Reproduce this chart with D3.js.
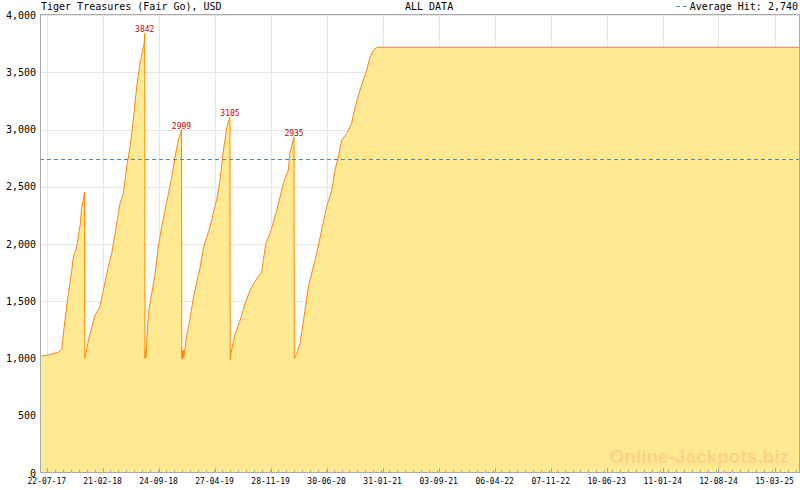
<!DOCTYPE html>
<html>
<head>
<meta charset="utf-8">
<script src="https://cdn.jsdelivr.net/npm/d3@7/dist/d3.min.js"></script>
<style>
  html, body { margin: 0; padding: 0; background: #ffffff; }
  svg { display: block; }
</style>
</head>
<body>
<svg id="chart" width="800" height="490"></svg>
<script>
// ---- data ----
const title = "Tiger Treasures (Fair Go), USD";
const subtitle = "ALL DATA";
const averageHit = 2740;
const averageLabel = "Average Hit: 2,740";

const dates = [
  "2017-06-26","2017-07-28","2017-09-04","2017-09-18","2017-09-24","2017-09-30","2017-10-13","2017-10-26",
  "2017-11-01","2017-11-14","2017-11-28","2017-12-03","2017-12-09","2017-12-14","2017-12-15",
  "2017-12-29","2018-01-11","2018-01-23","2018-02-11","2018-02-24","2018-03-15","2018-03-28","2018-04-10",
  "2018-04-19","2018-04-29","2018-05-12","2018-05-25","2018-06-07","2018-06-19","2018-07-02","2018-07-15",
  "2018-07-25","2018-07-31","2018-08-02","2018-08-03","2018-08-05","2018-08-07",
  "2018-08-10","2018-08-16","2018-08-29","2018-09-11","2018-09-23","2018-10-06","2018-10-19","2018-11-01",
  "2018-11-14","2018-11-26","2018-12-09","2018-12-19","2018-12-21","2018-12-22","2018-12-24","2018-12-26",
  "2018-12-28","2018-12-30",
  "2019-01-10","2019-01-23","2019-02-04","2019-02-17","2019-03-02","2019-03-15","2019-03-28","2019-04-10",
  "2019-04-22","2019-05-05","2019-05-18","2019-05-31","2019-06-13","2019-06-23","2019-06-25","2019-06-26",
  "2019-06-28","2019-07-15","2019-08-03","2019-08-22","2019-09-10","2019-10-06","2019-10-25","2019-10-31",
  "2019-11-10","2019-11-26","2019-12-22","2020-01-16","2020-02-04","2020-02-10","2020-02-23","2020-02-26",
  "2020-02-27",
  "2020-03-07","2020-03-20","2020-04-08","2020-04-21","2020-05-10","2020-05-23","2020-06-11","2020-06-30",
  "2020-07-20","2020-08-01","2020-08-14","2020-08-27","2020-09-15","2020-09-28","2020-10-04","2020-10-10",
  "2020-10-23","2020-11-05","2020-11-18","2020-12-01","2020-12-14","2020-12-27","2021-01-10","2025-06-17"
];
const values = [
  1020,1030,1055,1085,1220,1335,1565,1770,
  1885,1975,2180,2320,2385,2450,1000,
  1160,1275,1380,1450,1595,1800,1915,2090,
  2210,2355,2440,2675,2850,3080,3375,3580,
  3695,3755,3842,1000,1080,1010,
  1160,1395,1570,1745,1975,2150,2295,2440,
  2585,2760,2905,2980,2999,1000,1075,1000,
  1075,1010,
  1200,1350,1520,1660,1790,1960,2060,2150,
  2270,2385,2560,2820,3020,3095,3105,990,
  1043,1217,1334,1480,1596,1698,1756,1858,
  2004,2092,2295,2529,2645,2791,2907,2935,
  1000,
  1043,1130,1421,1625,1800,1917,2121,2324,
  2470,2645,2761,2907,2966,3024,3053,3125,
  3240,3344,3432,3519,3636,3694,3718,3718
];
const peakValues = [3842, 2999, 3105, 2935];

const xTickLabels = ["22-07-17","21-02-18","24-09-18","27-04-19","28-11-19","30-06-20","31-01-21",
  "03-09-21","06-04-22","07-11-22","10-06-23","11-01-24","12-08-24","15-03-25"];
const yTicks = [0, 500, 1000, 1500, 2000, 2500, 3000, 3500, 4000];

// ---- layout ----
const L = 40, R = 799, T = 15, B = 473;
const svg = d3.select("#chart");
const parseISO = d3.timeParse("%Y-%m-%d");
const parseTick = d3.timeParse("%d-%m-%y");
const data = dates.map((d, i) => ({ date: parseISO(d), value: values[i] }));
const majorTicks = xTickLabels.map(parseTick);

const x = d3.scaleTime().domain(d3.extent(data, d => d.date)).range([L, R]);
const y = d3.scaleLinear().domain([0, 4000]).range([B, T]);

const mono = "'DejaVu Sans Mono', monospace";

// grid
const g = svg.append("g");
g.selectAll("line.hg").data(yTicks.slice(1)).join("line")
  .attr("x1", L).attr("x2", R)
  .attr("y1", d => Math.round(y(d)) + 0.5).attr("y2", d => Math.round(y(d)) + 0.5)
  .attr("stroke", "#e6e6e6").attr("stroke-width", 1);
g.selectAll("line.vg").data(majorTicks).join("line")
  .attr("x1", d => Math.round(x(d)) + 0.5).attr("x2", d => Math.round(x(d)) + 0.5)
  .attr("y1", T).attr("y2", B)
  .attr("stroke", "#e6e6e6").attr("stroke-width", 1);

// area + line
const area = d3.area().x(d => x(d.date)).y0(y(0)).y1(d => y(d.value));
const line = d3.line().x(d => x(d.date)).y(d => y(d.value));
svg.append("path").datum(data).attr("d", area).attr("fill", "#ffea93");
svg.append("path").datum(data).attr("d", line)
  .attr("fill", "none").attr("stroke", "#ff8800").attr("stroke-width", 1);

// average dashed line
svg.append("line")
  .attr("x1", L).attr("x2", R)
  .attr("y1", Math.round(y(averageHit)) + 0.5).attr("y2", Math.round(y(averageHit)) + 0.5)
  .attr("stroke", "#3d8fc4").attr("stroke-width", 1).attr("stroke-dasharray", "4,3");

// watermark
svg.append("text")
  .attr("x", 789).attr("y", 463)
  .attr("text-anchor", "end")
  .attr("font-family", "'Liberation Sans', Arial, sans-serif")
  .attr("font-weight", "bold").attr("font-size", 19)
  .attr("fill", "#ffd27d")
  .text("Online-Jackpots.biz");

// frame
svg.append("rect")
  .attr("x", L + 0.5).attr("y", T - 0.5)
  .attr("width", R - L).attr("height", B - T)
  .attr("fill", "none").attr("stroke", "#aaaaaa").attr("stroke-width", 1);

// x ticks: major + minor
const step = (majorTicks[1] - majorTicks[0]) / 7;
const minorTicks = [];
const t0 = +majorTicks[0], tEnd = +x.domain()[1], tStart = +x.domain()[0];
for (let t = t0; t >= tStart; t -= step) minorTicks.push(t);
for (let t = t0 + step; t <= tEnd; t += step) minorTicks.push(t);
svg.append("g").selectAll("line").data(minorTicks).join("line")
  .attr("x1", d => Math.round(x(new Date(d))) + 0.5).attr("x2", d => Math.round(x(new Date(d))) + 0.5)
  .attr("y1", B - 3).attr("y2", B)
  .attr("stroke", "#aaaaaa");
svg.append("g").selectAll("line").data(majorTicks).join("line")
  .attr("x1", d => Math.round(x(d)) + 0.5).attr("x2", d => Math.round(x(d)) + 0.5)
  .attr("y1", B - 5).attr("y2", B)
  .attr("stroke", "#aaaaaa");
svg.append("g").selectAll("text").data(majorTicks).join("text")
  .attr("x", d => x(d)).attr("y", 484)
  .attr("text-anchor", "middle")
  .attr("font-family", mono).attr("font-size", 8).attr("fill", "#000")
  .text((d, i) => xTickLabels[i]);

// y labels
svg.append("g").selectAll("text").data(yTicks).join("text")
  .attr("x", 36).attr("y", d => y(d))
  .attr("dy", "0.35em")
  .attr("text-anchor", "end")
  .attr("font-family", mono).attr("font-size", 10).attr("fill", "#000")
  .text(d => d3.format(",")(d));

// peak labels
const peaks = peakValues.map(v => data.find(d => d.value === v));
svg.append("g").selectAll("text").data(peaks).join("text")
  .attr("x", d => x(d.date)).attr("y", d => y(d.value) - 1)
  .attr("text-anchor", "middle")
  .attr("font-family", mono).attr("font-size", 8).attr("fill", "#cc0000")
  .text(d => d.value);

// header
svg.append("text").attr("x", 41).attr("y", 10)
  .attr("font-family", mono).attr("font-size", 10).attr("fill", "#000").text(title);
svg.append("text").attr("x", 405).attr("y", 10)
  .attr("font-family", mono).attr("font-size", 10).attr("fill", "#000").text(subtitle);
svg.append("text").attr("x", 798).attr("y", 10).attr("text-anchor", "end")
  .attr("font-family", mono).attr("font-size", 10).attr("fill", "#000").text(averageLabel);
svg.append("line").attr("x1", 676).attr("x2", 688).attr("y1", 6.5).attr("y2", 6.5)
  .attr("stroke", "#3d8fc4").attr("stroke-dasharray", "4,3");
</script>
</body>
</html>
